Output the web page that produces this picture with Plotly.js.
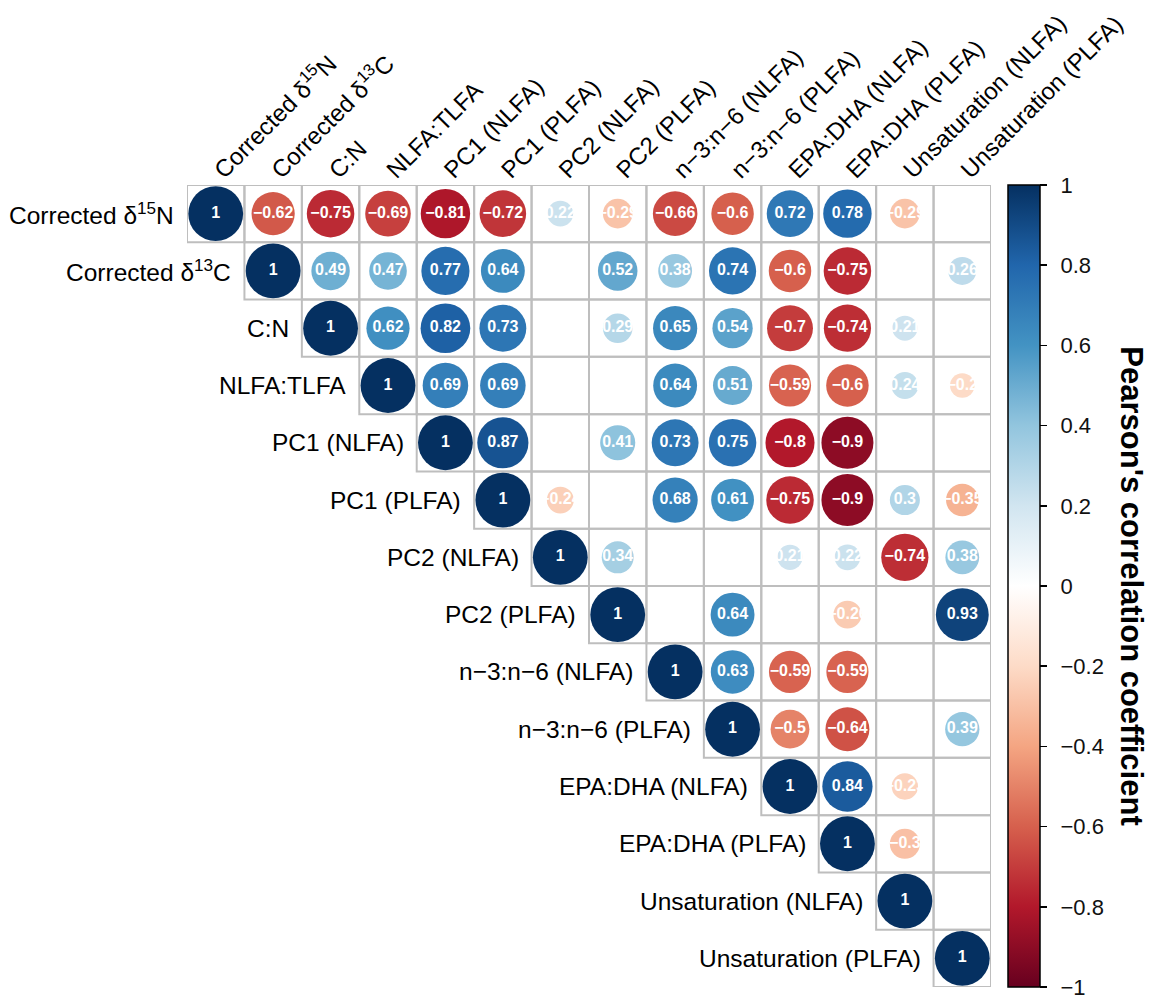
<!DOCTYPE html>
<html>
<head>
<meta charset="utf-8">
<script src="https://cdn.plot.ly/plotly-3.0.1.min.js"></script>
<style>html,body{margin:0;padding:0;background:#fff}#chart{width:1157px;height:999px}</style>
</head>
<body>
<div id="chart"></div>
<script>
const variables = [
  'Corrected δ<sup>15</sup>N', 'Corrected δ<sup>13</sup>C', 'C:N', 'NLFA:TLFA',
  'PC1 (NLFA)', 'PC1 (PLFA)', 'PC2 (NLFA)', 'PC2 (PLFA)',
  'n−3:n−6 (NLFA)', 'n−3:n−6 (PLFA)', 'EPA:DHA (NLFA)', 'EPA:DHA (PLFA)',
  'Unsaturation (NLFA)', 'Unsaturation (PLFA)'
];
// Pearson's r, upper triangle; null = blank (not shown)
const rowCorrectedN   = [1, -0.62, -0.75, -0.69, -0.81, -0.72, 0.22, -0.29, -0.66, -0.6, 0.72, 0.78, -0.29, null];
const rowCorrectedC   = [null, 1, 0.49, 0.47, 0.77, 0.64, null, 0.52, 0.38, 0.74, -0.6, -0.75, null, 0.26];
const rowCN           = [null, null, 1, 0.62, 0.82, 0.73, null, 0.29, 0.65, 0.54, -0.7, -0.74, 0.21, null];
const rowNLFATLFA     = [null, null, null, 1, 0.69, 0.69, null, null, 0.64, 0.51, -0.59, -0.6, 0.24, -0.2];
const rowPC1NLFA      = [null, null, null, null, 1, 0.87, null, 0.41, 0.73, 0.75, -0.8, -0.9, null, null];
const rowPC1PLFA      = [null, null, null, null, null, 1, -0.24, null, 0.68, 0.61, -0.75, -0.9, 0.3, -0.35];
const rowPC2NLFA      = [null, null, null, null, null, null, 1, 0.34, null, null, 0.21, 0.22, -0.74, 0.38];
const rowPC2PLFA      = [null, null, null, null, null, null, null, 1, null, 0.64, null, -0.26, null, 0.93];
const rowN3N6NLFA     = [null, null, null, null, null, null, null, null, 1, 0.63, -0.59, -0.59, null, null];
const rowN3N6PLFA     = [null, null, null, null, null, null, null, null, null, 1, -0.5, -0.64, null, 0.39];
const rowEPADHANLFA   = [null, null, null, null, null, null, null, null, null, null, 1, 0.84, -0.23, null];
const rowEPADHAPLFA   = [null, null, null, null, null, null, null, null, null, null, null, 1, -0.3, null];
const rowUnsatNLFA    = [null, null, null, null, null, null, null, null, null, null, null, null, 1, null];
const rowUnsatPLFA    = [null, null, null, null, null, null, null, null, null, null, null, null, null, 1];
const colorbarTicks   = [-1, -0.8, -0.6, -0.4, -0.2, 0, 0.2, 0.4, 0.6, 0.8, 1];

const rows = [rowCorrectedN, rowCorrectedC, rowCN, rowNLFATLFA, rowPC1NLFA, rowPC1PLFA,
  rowPC2NLFA, rowPC2PLFA, rowN3N6NLFA, rowN3N6PLFA, rowEPADHANLFA, rowEPADHAPLFA,
  rowUnsatNLFA, rowUnsatPLFA];

const n = variables.length;
const W = 1157, H = 999;
const margin = {l: 187, r: 166, t: 185, b: 12};
const plotW = W - margin.l - margin.r;
const cellPx = plotW / n;

const xs = [], ys = [], vals = [], sizes = [], texts = [];
rows.forEach((row, i) => row.forEach((v, j) => {
  if (v === null) return;
  xs.push(j); ys.push(i); vals.push(v);
  sizes.push(0.955 * cellPx * Math.sqrt(Math.abs(v)));
  texts.push(v === 1 ? '1' : (v < 0 ? '−' : '') + String(Math.abs(v)));
}));

const shapes = [];
for (let i = 0; i < n; i++) for (let j = i; j < n; j++) {
  shapes.push({type: 'rect', xref: 'x', yref: 'y', x0: j - 0.5, x1: j + 0.5, y0: i - 0.5, y1: i + 0.5,
    line: {color: '#BEBEBE', width: 2}, fillcolor: 'rgba(0,0,0,0)', layer: 'below'});
}

const font = 'Liberation Sans, Arial, sans-serif';
const annotations = variables.map((lab, i) => ({
  xref: 'x', yref: 'y', x: i - 0.5, y: i, text: lab, showarrow: false,
  xanchor: 'right', yanchor: 'middle', xshift: -11,
  font: {family: font, size: 24.5, color: '#000'}
}));
annotations.push({
  xref: 'paper', yref: 'paper', x: 1.175, y: 0.5, text: "<b>Pearson's correlation coefficient</b>",
  textangle: 90, showarrow: false, xanchor: 'center', yanchor: 'middle',
  font: {family: font, size: 31, color: '#000'}
});

const colorscale = [[0, '#67001F'], [0.1, '#B2182B'], [0.2, '#D6604D'], [0.3, '#F4A582'], [0.4, '#FDDBC7'],
  [0.5, '#FFFFFF'], [0.6, '#D1E5F0'], [0.7, '#92C5DE'], [0.8, '#4393C3'], [0.9, '#2166AC'], [1, '#053061']];

const pad = '\u2009\u2009';
const trace = {
  type: 'scatter', mode: 'markers+text', x: xs, y: ys, text: texts,
  textposition: 'middle center', hoverinfo: 'skip',
  textfont: {family: font, size: 16, color: '#fff', weight: 'bold'},
  marker: {
    size: sizes, sizemode: 'diameter', color: vals, cmin: -1, cmax: 1, colorscale: colorscale,
    line: {width: 0}, opacity: 1, showscale: true,
    colorbar: {
      x: (1008 - margin.l) / plotW, xref: 'paper', xanchor: 'left', y: 0.5, yanchor: 'middle',
      len: 1, lenmode: 'fraction', thickness: 32, thicknessmode: 'pixels', xpad: 0, ypad: 0,
      outlinewidth: 1.5, outlinecolor: '#000',
      tickmode: 'array', tickvals: colorbarTicks,
      ticktext: colorbarTicks.map(t => pad + (t < 0 ? '−' : '') + String(Math.abs(t))),
      ticks: 'outside', ticklen: 7, tickwidth: 1.5, tickcolor: '#000',
      ticklabeloverflow: 'allow',
      tickfont: {family: font, size: 22, color: '#111'}
    }
  }
};

const layout = {
  width: W, height: H, margin: margin, paper_bgcolor: '#fff', plot_bgcolor: '#fff',
  showlegend: false, font: {family: font},
  xaxis: {range: [-0.5, n - 0.5], side: 'top', tickmode: 'array', tickvals: variables.map((_, i) => i),
    ticktext: variables, tickangle: -45, ticks: '', showgrid: false, zeroline: false, showline: false,
    ticklabelstandoff: -4,
    tickfont: {family: font, size: 24, color: '#000'}, fixedrange: true},
  yaxis: {range: [n - 0.5, -0.5], showticklabels: false, ticks: '', showgrid: false, zeroline: false,
    showline: false, fixedrange: true},
  shapes: shapes, annotations: annotations
};

Plotly.newPlot('chart', [trace], layout, {displayModeBar: false, staticPlot: true});
</script>
</body>
</html>
